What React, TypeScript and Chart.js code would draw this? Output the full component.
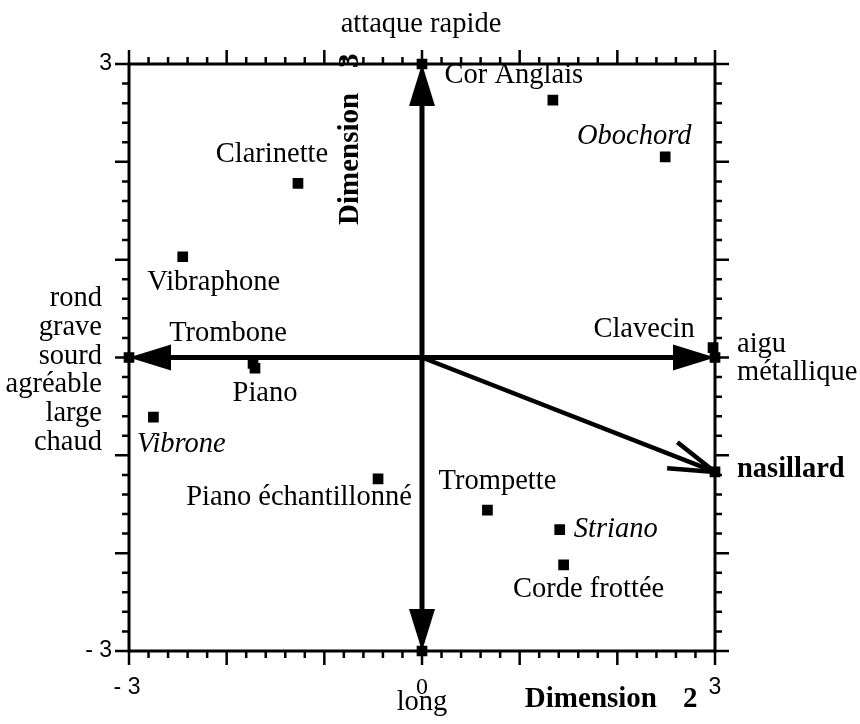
import React, { useEffect, useRef } from 'react';
import { Chart, registerables } from 'chart.js';

Chart.register(...registerables);

// ---- data ----
const instruments = [
  'Cor Anglais', 'Obochord', 'Clarinette', 'Vibraphone', 'Clavecin', 'Trombone',
  'Piano', 'Vibrone', 'Piano échantillonné', 'Trompette', 'Striano', 'Corde frottée',
];
const dim2 = [1.34, 2.49, -1.27, -2.45, 2.98, -1.73, -1.71, -2.75, -0.45, 0.67, 1.41, 1.45];
const dim3 = [2.63, 2.05, 1.78, 1.03, 0.1, -0.06, -0.11, -0.61, -1.24, -1.56, -1.76, -2.12];
const italicInstruments = ['Obochord', 'Vibrone', 'Striano'];

const vectorNames = ['attaque rapide', 'long', 'sourd', 'aigu', 'nasillard'];
const vectorDim2 = [0, 0, -3, 3, 3];
const vectorDim3 = [3, -3, 0, 0, -1.17];

const leftPoleWords = ['rond', 'grave', 'sourd', 'agréable', 'large', 'chaud'];
const rightPoleWords = ['aigu', 'métallique'];

const axisMin = -3;
const axisMax = 3;
const minorStep = 0.2;
const xTickLabels: Record<string, string> = { '-3': '- 3', '0': '0', '3': '3' };
const yTickLabels: Record<string, string> = { '3': '3', '-3': '- 3' };
const xTitle = 'Dimension';
const xTitleNum = '2';
const yTitle = 'Dimension';
const yTitleNum = '3';

// ---- layout (pixel offsets of labels from their marker) ----
const labelOffsets: [number, number][] = [
  [-39, -25], [-31, -20], [-26, -29], [31, 26], [-69, -18], [-25, -30],
  [10, 25], [28, 27], [-79, 19], [10, -29], [56, 0], [25, 25],
];

const SERIF = '"Liberation Serif", "Times New Roman", serif';
const SANS = '"Liberation Sans", Arial, sans-serif';

const overlay = {
  id: 'overlay',
  beforeDatasetsDraw(chart: any) {
    const { ctx, chartArea: a, scales } = chart;
    const x = scales.x;
    const y = scales.y;
    ctx.save();
    ctx.strokeStyle = '#000';
    ctx.fillStyle = '#000';
    ctx.lineCap = 'butt';
    // frame
    ctx.lineWidth = 3;
    ctx.strokeRect(a.left, a.top, a.right - a.left, a.bottom - a.top);
    // ticks
    ctx.lineWidth = 2.5;
    ctx.beginPath();
    const n = Math.round((axisMax - axisMin) / minorStep);
    for (let i = 0; i <= n; i++) {
      const v = axisMin + i * minorStep;
      const len = i % 5 === 0 ? 14 : 7;
      const px = x.getPixelForValue(v);
      const py = y.getPixelForValue(v);
      ctx.moveTo(px, a.top); ctx.lineTo(px, a.top - len);
      ctx.moveTo(px, a.bottom); ctx.lineTo(px, a.bottom + len);
      ctx.moveTo(a.left, py); ctx.lineTo(a.left - len, py);
      ctx.moveTo(a.right, py); ctx.lineTo(a.right + len, py);
    }
    ctx.stroke();

    // arrows
    const ox = x.getPixelForValue(0);
    const oy = y.getPixelForValue(0);
    vectorDim2.forEach((vx, k) => {
      const tx = x.getPixelForValue(vx);
      const ty = y.getPixelForValue(vectorDim3[k]);
      const ang = Math.atan2(ty - oy, tx - ox);
      const open = vectorNames[k] === 'nasillard';
      const headLen = 42;
      const headHalf = 13;
      ctx.lineWidth = open ? 4.5 : 5;
      ctx.beginPath();
      ctx.moveTo(ox, oy);
      if (open) {
        ctx.lineTo(tx, ty);
      } else {
        ctx.lineTo(tx - Math.cos(ang) * (headLen - 4), ty - Math.sin(ang) * (headLen - 4));
      }
      ctx.stroke();
      if (open) {
        const bl = 48;
        const spread = (17 * Math.PI) / 180;
        ctx.beginPath();
        ctx.moveTo(tx, ty);
        ctx.lineTo(tx - Math.cos(ang - spread) * bl, ty - Math.sin(ang - spread) * bl);
        ctx.moveTo(tx, ty);
        ctx.lineTo(tx - Math.cos(ang + spread) * bl, ty - Math.sin(ang + spread) * bl);
        ctx.stroke();
      } else {
        const bx = tx - Math.cos(ang) * headLen;
        const by = ty - Math.sin(ang) * headLen;
        const nx = -Math.sin(ang) * headHalf;
        const ny = Math.cos(ang) * headHalf;
        ctx.beginPath();
        ctx.moveTo(tx, ty);
        ctx.lineTo(bx + nx, by + ny);
        ctx.lineTo(bx - nx, by - ny);
        ctx.closePath();
        ctx.fill();
      }
    });
    ctx.restore();
  },
  afterDatasetsDraw(chart: any) {
    const { ctx, chartArea: a, scales } = chart;
    const x = scales.x;
    const y = scales.y;
    ctx.save();
    ctx.fillStyle = '#000';

    // instrument labels
    ctx.textBaseline = 'middle';
    ctx.textAlign = 'center';
    instruments.forEach((name, i) => {
      const px = x.getPixelForValue(dim2[i]);
      const py = y.getPixelForValue(dim3[i]);
      const it = italicInstruments.includes(name);
      ctx.font = `${it ? 'italic ' : ''}28.5px ${SERIF}`;
      const [dx, dy] = labelOffsets[i];
      ctx.fillText(name, px + dx, py + dy);
    });

    // vector pole labels
    ctx.font = `28.5px ${SERIF}`;
    const vx = (k: number) => x.getPixelForValue(vectorDim2[k]);
    const vy = (k: number) => y.getPixelForValue(vectorDim3[k]);
    ctx.textAlign = 'center';
    ctx.textBaseline = 'middle';
    ctx.fillText(vectorNames[0], vx(0) - 1, vy(0) - 39);
    ctx.fillText(vectorNames[1], vx(1), vy(1) + 52);
    ctx.textBaseline = 'alphabetic';
    ctx.textAlign = 'right';
    leftPoleWords.forEach((w, i) => {
      ctx.fillText(w, vx(2) - 27, vy(2) - 51.5 + i * 28.8);
    });
    ctx.textAlign = 'left';
    rightPoleWords.forEach((w, i) => {
      ctx.fillText(w, vx(3) + 22, vy(3) - 5.5 + i * 28);
    });
    ctx.font = `bold 28.5px ${SERIF}`;
    ctx.fillText(vectorNames[4], vx(4) + 22, vy(4) + 5);

    // tick labels
    ctx.textBaseline = 'middle';
    ctx.textAlign = 'center';
    Object.keys(xTickLabels).forEach((k) => {
      const v = Number(k);
      ctx.font = v === 0 ? `24px ${SERIF}` : `23px ${SANS}`;
      ctx.fillText(xTickLabels[k], x.getPixelForValue(v) - (v < 0 ? 2 : 0), a.bottom + 37);
    });
    ctx.textAlign = 'right';
    ctx.font = `23px ${SANS}`;
    Object.keys(yTickLabels).forEach((k) => {
      const v = Number(k);
      ctx.fillText(yTickLabels[k], a.left - 17, y.getPixelForValue(v));
    });

    // axis titles
    ctx.font = `bold 29px ${SERIF}`;
    ctx.textBaseline = 'alphabetic';
    ctx.textAlign = 'right';
    ctx.fillText(xTitle, a.right - 58, a.bottom + 56);
    ctx.textAlign = 'left';
    ctx.fillText(xTitleNum, a.right - 32, a.bottom + 56);

    ctx.save();
    ctx.translate(a.left + 222, a.top + 161);
    ctx.rotate(-Math.PI / 2);
    ctx.textBaseline = 'middle';
    ctx.textAlign = 'left';
    ctx.fillText(yTitle, 0, 0);
    ctx.fillText(yTitleNum, 157, 0);
    ctx.restore();

    ctx.restore();
  },
};

export default function App() {
  const ref = useRef<HTMLCanvasElement | null>(null);
  useEffect(() => {
    if (!ref.current) return;
    const instrumentData = dim2.map((v, i) => ({ x: v, y: dim3[i] }));
    const vectorData = vectorDim2.map((v, i) => ({ x: v, y: vectorDim3[i] }));
    const chart = new Chart(ref.current, {
      type: 'scatter',
      data: {
        datasets: [
          {
            label: 'Instruments',
            data: instrumentData,
            pointStyle: 'rect',
            pointRadius: 6.5,
            backgroundColor: '#000',
            borderColor: '#000',
            borderWidth: 1.5,
            borderJoinStyle: 'round',
            clip: false,
          } as any,
          {
            label: 'Vecteurs',
            data: vectorData,
            pointStyle: 'rect',
            pointRadius: 6.5,
            backgroundColor: '#000',
            borderColor: '#000',
            borderWidth: 1.5,
            clip: false,
          } as any,
        ],
      },
      options: {
        responsive: false,
        animation: false,
        devicePixelRatio: 1,
        layout: { padding: { left: 129, top: 64, right: 145, bottom: 73 } },
        scales: {
          x: { type: 'linear', min: axisMin, max: axisMax, display: false },
          y: { type: 'linear', min: axisMin, max: axisMax, display: false },
        },
        plugins: { legend: { display: false }, tooltip: { enabled: false } },
      },
      plugins: [overlay],
    });
    return () => chart.destroy();
  }, []);
  return (
    <div style={{ position: 'absolute', left: 0, top: 0, width: 860, height: 724, background: '#fff' }}>
      <canvas ref={ref} width={860} height={724} style={{ display: 'block' }} />
    </div>
  );
}
